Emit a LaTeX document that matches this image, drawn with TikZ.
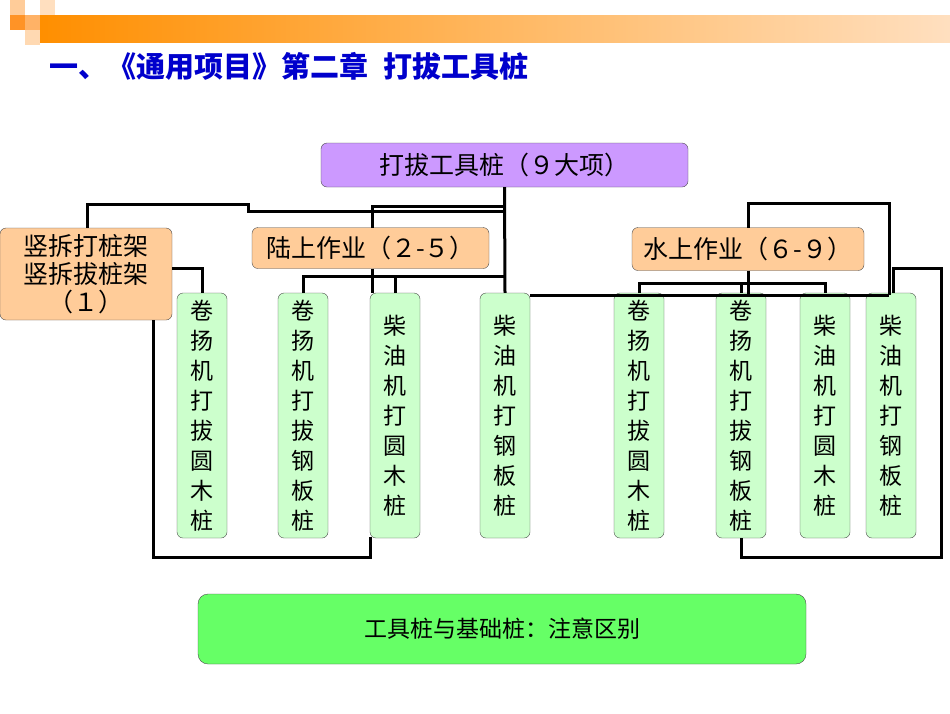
\documentclass[tikz,border=0pt]{standalone}
\usepackage{fontspec}
\newfontfamily\cjk{Noto Sans CJK SC}
\usetikzlibrary{calc}
\definecolor{purp}{HTML}{CC99FF}
\definecolor{peach}{HTML}{FFCC99}
\definecolor{lgreen}{HTML}{CCFFCC}
\definecolor{bgreen}{HTML}{66FF66}
\definecolor{tblue}{HTML}{0000CC}
\begin{document}
\begin{tikzpicture}[x=1pt,y=-1pt,
  box/.style={draw=black!70,rounded corners=6pt,inner sep=0pt},
  vb/.style={box,fill=lgreen,minimum width=50pt,minimum height=245pt,align=center,font=\cjk\fontsize{23}{30}\selectfont},
  ln/.style={line width=3pt}]
\useasboundingbox (0,0) rectangle (950,713);
\fill[white] (0,0) rectangle (950,713);
% header
\shade[left color=orange!90!red!80!yellow,right color=orange!25] (40,15) rectangle (950,42);
\fill[orange!40] (10,0) rectangle (25,15);
\fill[orange!60] (25,15) rectangle (40,30);
\fill[orange!30] (25,30) rectangle (40,45);
\fill[orange!85] (10,15) rectangle (25,30);
\fill[orange!25] (40,0) rectangle (55,15);
\node[anchor=west,text=tblue,font=\cjk\bfseries\fontsize{29}{32}\selectfont] (title) at (46,66) {一、《通用项目》第二章\enspace 打拔工具桩};
% nodes
\node[box,fill=purp,minimum width=367pt,minimum height=44pt,font=\cjk\fontsize{25}{28}\selectfont] (top) at (504.5,165) {打拔工具桩（９大项）};
\node[box,fill=peach,minimum width=172pt,minimum height=92pt,align=center,font=\cjk\fontsize{25}{28}\selectfont] (left) at (86,274) {竖拆打桩架\\竖拆拔桩架\\（１）};
\node[box,fill=peach,minimum width=237pt,minimum height=41pt,font=\cjk\fontsize{25}{28}\selectfont] (land) at (370.5,248) {陆上作业（２-５）};
\node[box,fill=peach,minimum width=232pt,minimum height=43pt,font=\cjk\fontsize{25}{28}\selectfont] (water) at (748,249) {水上作业（６-９）};
\node[vb] (b1) at (202,415.5) {卷\\扬\\机\\打\\拔\\圆\\木\\桩};
\node[vb] (b2) at (303,415.5) {卷\\扬\\机\\打\\拔\\钢\\板\\桩};
\node[vb] (b3) at (395,415.5) {柴\\油\\机\\打\\圆\\木\\桩};
\node[vb] (b4) at (505,415.5) {柴\\油\\机\\打\\钢\\板\\桩};
\node[vb] (b5) at (639,415.5) {卷\\扬\\机\\打\\拔\\圆\\木\\桩};
\node[vb] (b6) at (741,415.5) {卷\\扬\\机\\打\\拔\\钢\\板\\桩};
\node[vb] (b7) at (825,415.5) {柴\\油\\机\\打\\圆\\木\\桩};
\node[vb] (b8) at (891,415.5) {柴\\油\\机\\打\\钢\\板\\桩};
\node[box,fill=bgreen,rounded corners=10pt,minimum width=608pt,minimum height=70pt,font=\cjk\fontsize{23}{26}\selectfont] (note) at (502,629) {工具桩与基础桩：注意区别};
% connectors
\draw[ln] (top.south) -- (b4.north);
\draw[ln] (505,211) -- (248,211) -- (248,204) -- (87,204) -- (87,228);
\draw[ln] (505,206) -- (372,206) -- (372,227.5);
\draw[ln] (372,268.5) -- (372,293);
\draw[ln] (303,293) -- (303,276) -- (505,276);
\draw[ln] (395,276) -- (395,293);
\draw[ln] (172,268) -- (202,268) -- (202,293);
\draw[ln] (153,320) -- (153,557) -- (370,557) -- (370,537);
\draw[ln] (530,295) -- (889,295);
\draw[ln] (748,227.5) -- (748,203) -- (889,203) -- (889,295);
\draw[ln] (748,270.5) -- (748,295);
\draw[ln] (639,293) -- (639,283) -- (825,283) -- (825,293);
\draw[ln] (741,283) -- (741,293);
\draw[ln] (741,538) -- (741,557) -- (941,557) -- (941,268) -- (893,268) -- (893,293);
\end{tikzpicture}
\end{document}
